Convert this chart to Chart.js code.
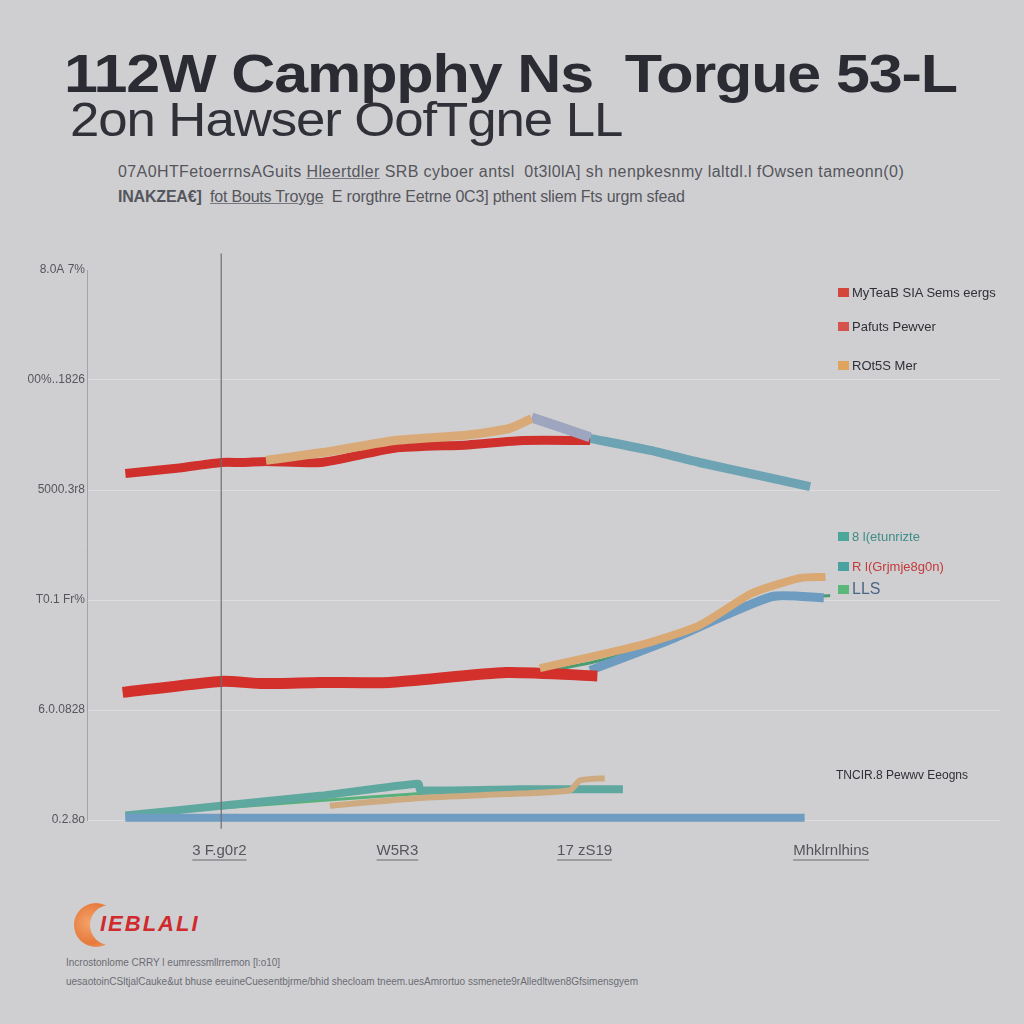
<!doctype html>
<html lang="en">
<head>
<meta charset="utf-8">
<title>Torque chart</title>
<script src="https://cdn.jsdelivr.net/npm/chart.js"></script>
<style>
  body { margin:0; width:1024px; height:1024px; background:#cfcfd2; position:relative; overflow:hidden; font-family:"Liberation Sans", Arial, sans-serif; }
  .abs { position:absolute; white-space:nowrap; }
  #t1 { left:64px; top:42px; font-size:54px; font-weight:bold; color:#2b2b33; letter-spacing:-1px; transform:scaleX(1.13); transform-origin:left top; }
  #t2 { left:70px; top:92px; font-size:48px; color:#2f3038; letter-spacing:-1px; transform:scaleX(1.1); transform-origin:left top; }
  .sub { font-size:16px; color:#55565c; letter-spacing:-0.2px; }
  .sub u { text-decoration-color:#77787e; }
  #chartWrap { position:absolute; left:0; top:240px; width:1024px; height:640px; }
  .leg { font-size:13px; color:#2f3036; }
  .leg i { display:inline-block; width:11px; height:9px; margin-right:3px; vertical-align:0px; }
  .foot { font-size:10px; color:#6b6c72; }
  #logoMoon { left:74px; top:903px; width:44px; height:44px; border-radius:50%; background:radial-gradient(circle at 35% 45%, #f4a36a 0%, #e77a3d 55%, #f0b48a 100%); }
  #logoCut { left:90px; top:905px; width:40px; height:40px; border-radius:50%; background:#cfcfd2; }
  #logoTxt { left:100px; top:911px; font-size:22px; font-weight:bold; font-style:italic; color:#cf2b2e; letter-spacing:2px; }
</style>
</head>
<body>

<div class="abs" id="t1">112W Campphy Ns&nbsp; Torgue 53-L</div>
<div class="abs" id="t2">2on Hawser OofTgne LL</div>
<div class="abs sub" style="left:118px;top:163px;letter-spacing:0.4px;">07A0HTFetoerrnsAGuits <u>Hleertdler</u> SRB cyboer antsl &nbsp;0t3l0lA] sh nenpkesnmy laltdl.l fOwsen tameonn(0)</div>
<div class="abs sub" style="left:118px;top:188px;"><b>INAKZEA€]</b> &nbsp;<u>fot Bouts Troyge</u> &nbsp;E rorgthre Eetrne 0C3] pthent sliem Fts urgm sfead</div>

<div id="chartWrap"><canvas id="torqueChart"></canvas></div>

<div class="abs leg" style="left:838px;top:285px;"><i style="background:#d4463c"></i>MyTeaB SIA Sems eergs</div>
<div class="abs leg" style="left:838px;top:319px;"><i style="background:#d6524c"></i>Pafuts Pewver</div>
<div class="abs leg" style="left:838px;top:358px;"><i style="background:#e0a45e"></i>ROt5S Mer</div>
<div class="abs leg" style="left:838px;top:529px;color:#3f8c86;"><i style="background:#4aa79a"></i>8 l(etunrizte</div>
<div class="abs leg" style="left:838px;top:559px;color:#c23b3b;"><i style="background:#4aa2a0"></i>R l(Grjmje8g0n)</div>
<div class="abs leg" style="left:838px;top:580px;color:#4c6688;font-size:16px;"><i style="background:#5cb87a"></i>LLS</div>
<div class="abs leg" style="left:836px;top:768px;font-size:12px;">TNCIR.8 Pewwv Eeogns</div>

<div class="abs" id="logoMoon"></div>
<div class="abs" id="logoCut"></div>
<div class="abs" id="logoTxt">IEBLALI</div>
<div class="abs foot" style="left:66px;top:957px;">Incrostonlome CRRY l eumressmllrremon [l:o10]</div>
<div class="abs foot" style="left:66px;top:976px;">uesaotoinCSltjalCauke&amp;ut bhuse eeuineCuesentbjrme/bhid shecloam tneem.uesAmrortuo ssmenete9rAlledltwen8Gfsimensgyem</div>

<script>
// axis ticks
const yLabels = ['0.2.8o', '6.0.0828', 'T0.1 Fr%', '5000.3r8', '00%..1826', '8.0A 7%'];
const xTicks = [14.5, 34, 54.5, 81.5];
const xLabels = ['3 F.g0r2', 'W5R3', '17 zS19', 'Mhklrnlhins'];

// upper group
const redHighX = [4.2, 10.1, 14.7, 17.1, 19.6, 25.6, 33.7, 41.7, 47.8, 55.1];
const redHighY = [3.15, 3.2, 3.25, 3.25, 3.26, 3.25, 3.38, 3.41, 3.45, 3.45];
const tanHighX = [19.6, 26.6, 33.7, 41.7, 46.3, 48.7];
const tanHighY = [3.27, 3.35, 3.45, 3.5, 3.56, 3.65];
const slateHighX = [48.7, 55.1];
const slateHighY = [3.66, 3.48];
const tealHighX = [55.1, 61.7, 67.1, 73.7, 79.2];
const tealHighY = [3.47, 3.36, 3.25, 3.13, 3.03];

// middle group
const redMidX = [3.9, 14.7, 19.3, 25.5, 33.1, 45.9, 55.9];
const redMidY = [1.16, 1.26, 1.24, 1.25, 1.25, 1.34, 1.31];
const tanMidX = [49.6, 60.6, 67.1, 72.8, 78.1, 80.9];
const tanMidY = [1.38, 1.59, 1.77, 2.06, 2.2, 2.21];
const greenMidX = [50.2, 56.2, 65, 74.8, 81.4];
const greenMidY = [1.35, 1.45, 1.68, 2.0, 2.04];
const blueMidX = [55.1, 63.9, 75, 80.7];
const blueMidY = [1.36, 1.64, 2.03, 2.02];

// lower group
const blueLowX = [4.2, 78.6];
const blueLowY = [0.02, 0.02];
const tealLowX = [4.2, 14.7, 25.5, 36.3, 36.5, 47.4, 58.7];
const tealLowY = [0.04, 0.13, 0.22, 0.33, 0.27, 0.28, 0.28];
const tanLowX = [26.6, 36.5, 47.4, 52.9, 54, 56.7];
const tanLowY = [0.13, 0.2, 0.24, 0.27, 0.36, 0.38];
const greenLowX = [14.7, 36.5, 47.4, 56.2];
const greenLowY = [0.11, 0.24, 0.27, 0.28];

// vertical marker
const markerX = [14.7, 14.7];
const markerY = [-0.08, 5.15];

function pts(xs, ys) {
  return xs.map((x, i) => ({ x: x, y: ys[i] }));
}
function series(label, xs, ys, color, width) {
  return {
    label: label,
    data: pts(xs, ys),
    borderColor: color,
    borderWidth: width,
    pointRadius: 0,
    tension: 0.2,
    borderJoinStyle: 'round',
    fill: false
  };
}

const xFont = { family: "'Liberation Sans', sans-serif", size: 15 };

// underline the x tick labels
const underlinePlugin = {
  id: 'underline',
  afterDraw(chart) {
    const sc = chart.scales.x;
    const ctx = chart.ctx;
    ctx.save();
    ctx.font = '15px ' + xFont.family;
    ctx.strokeStyle = '#6a6b70';
    ctx.lineWidth = 1;
    sc.ticks.forEach((t, i) => {
      const px = sc.getPixelForValue(t.value);
      const w = ctx.measureText(xLabels[i]).width;
      const y = sc.top + 40;
      ctx.beginPath();
      ctx.moveTo(px - w / 2, y);
      ctx.lineTo(px + w / 2, y);
      ctx.stroke();
    });
    ctx.restore();
  }
};

new Chart(document.getElementById('torqueChart'), {
  type: 'line',
  data: {
    datasets: [
      series('marker', markerX, markerY, '#6d6e74', 1.2),
      series('tanHigh', tanHighX, tanHighY, '#d9aa78', 9),
      series('slateHigh', slateHighX, slateHighY, '#9ea5bf', 10),
      series('redHigh', redHighX, redHighY, '#cf302b', 9),
      series('tealHigh', tealHighX, tealHighY, '#6ea3b3', 9),
      series('tanMid', tanMidX, tanMidY, '#d9a873', 8),
      series('redMid', redMidX, redMidY, '#d3302b', 11),
      series('blueMid', blueMidX, blueMidY, '#6e9cc0', 9),
      series('greenMid', greenMidX, greenMidY, '#4d9a73', 3),
      series('blueLow', blueLowX, blueLowY, '#6f9dc2', 8),
      series('tanLow', tanLowX, tanLowY, '#cdaa80', 6),
      series('tealLow', tealLowX, tealLowY, '#5fa8a0', 8),
      series('greenLow', greenLowX, greenLowY, '#58b07a', 3)
    ]
  },
  options: {
    responsive: true,
    maintainAspectRatio: false,
    animation: false,
    clip: false,
    layout: { padding: { top: 30, right: 24, bottom: 0, left: 0 } },
    plugins: { legend: { display: false }, tooltip: { enabled: false } },
    scales: {
      x: {
        type: 'linear',
        min: 0,
        max: 100,
        afterFit(scale) { scale.height = 60; },
        afterBuildTicks(scale) { scale.ticks = xTicks.map(v => ({ value: v })); },
        grid: { display: false },
        border: { display: false },
        ticks: {
          padding: 14,
          color: '#55565c',
          font: xFont,
          maxRotation: 0,
          autoSkip: false,
          callback: (value, index) => xLabels[index]
        }
      },
      y: {
        min: 0,
        max: 5,
        afterFit(scale) { scale.width = 87; },
        grid: {
          color: (c) => c.tick && c.tick.value === 5 ? 'rgba(0,0,0,0)' : '#dcdcdf',
          lineWidth: 1,
          drawTicks: false
        },
        border: { display: true, color: '#a2a3a8', width: 1 },
        ticks: {
          stepSize: 1,
          padding: 2,
          color: '#55565c',
          font: { family: "'Liberation Sans', sans-serif", size: 12 },
          callback: (value) => yLabels[value]
        }
      }
    }
  },
  plugins: [underlinePlugin]
});
</script>
</body>
</html>
